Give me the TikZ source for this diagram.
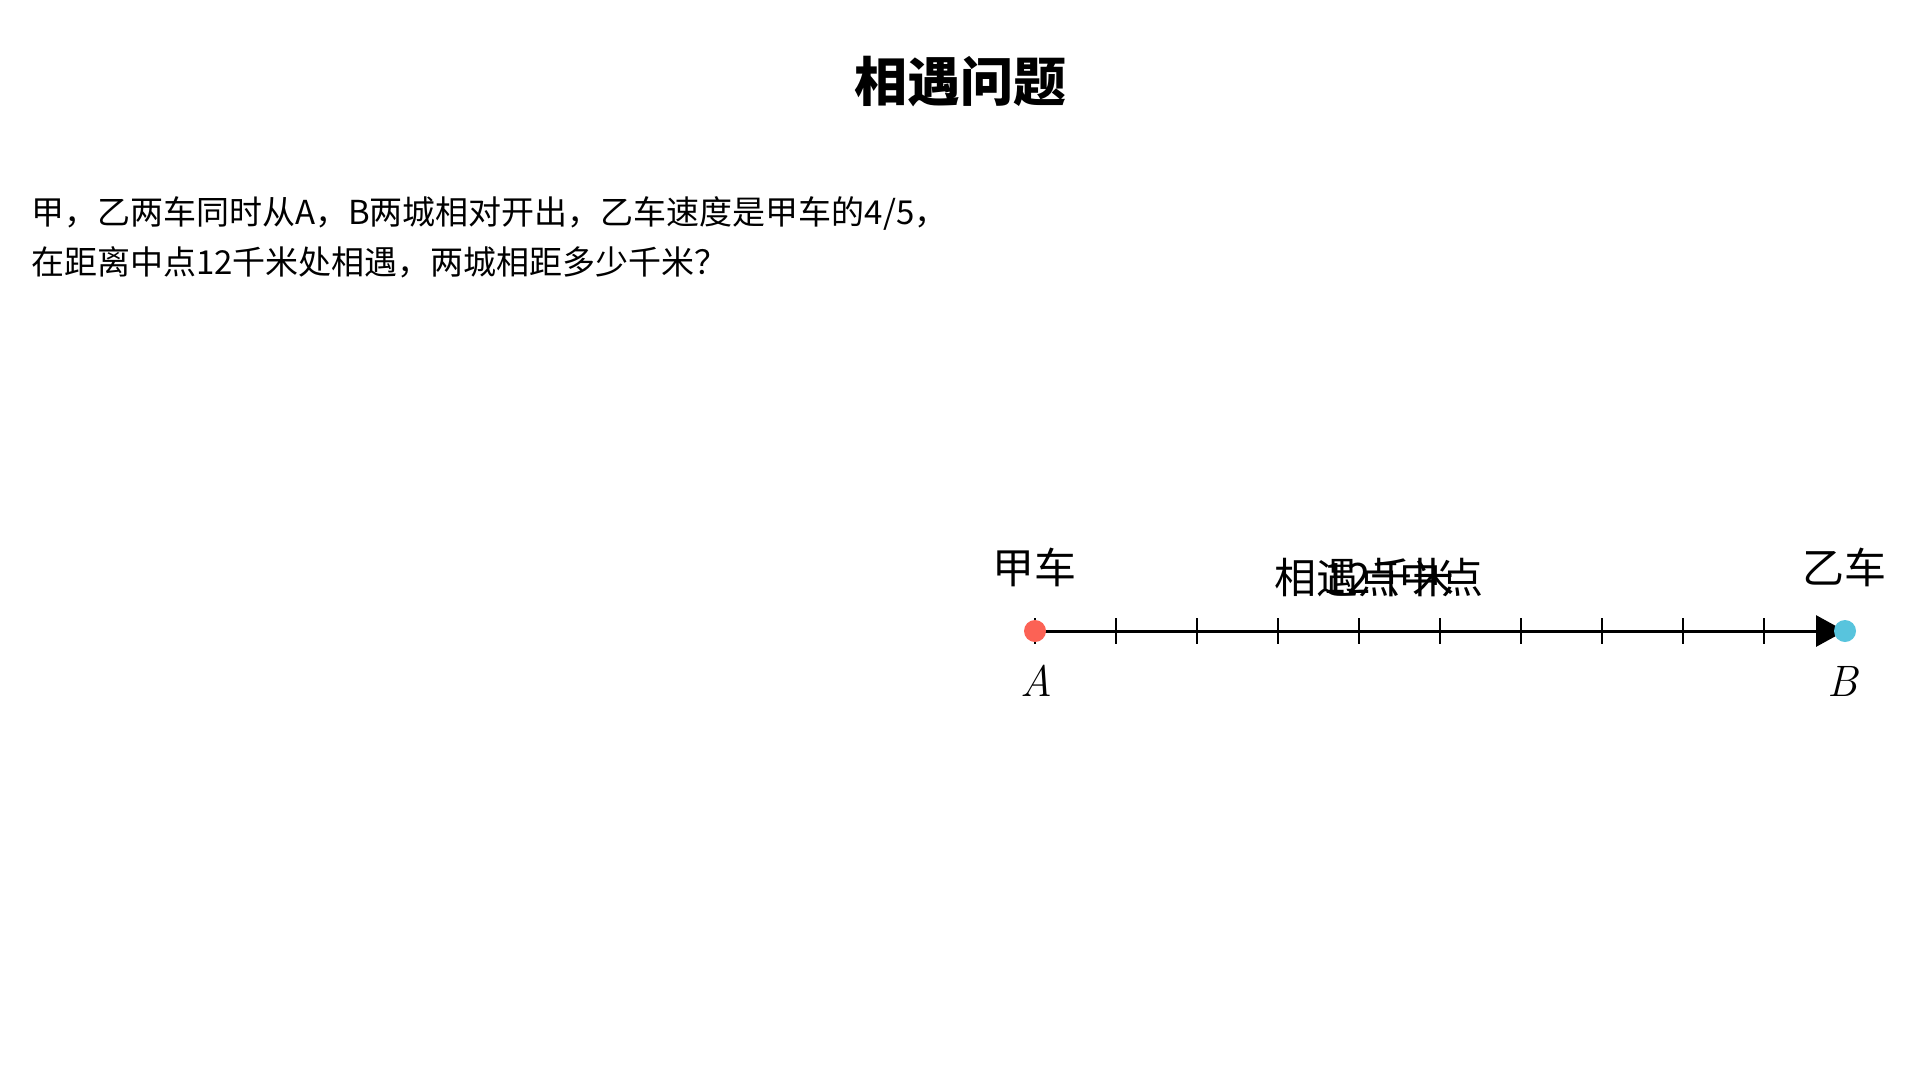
\documentclass[tikz,border=0pt]{standalone}
\usepackage{fontspec}
\usetikzlibrary{arrows.meta}
\newfontfamily\cjk{Noto Sans CJK SC}
\definecolor{dotred}{HTML}{FC6255}
\definecolor{dotblue}{HTML}{58C4DD}
\tikzset{
  titletext/.style={font=\cjk\bfseries\fontsize{53}{60}\selectfont, inner sep=0pt},
  bodytext/.style={font=\cjk\fontsize{33}{40}\selectfont, inner sep=0pt, anchor=base west},
  labeltext/.style={font=\cjk\fontsize{42}{48}\selectfont, inner sep=0pt},
  pointlabel/.style={font=\fontsize{44}{50}\selectfont\itshape, inner sep=0pt},
  dotnode/.style={circle, inner sep=0pt, minimum size=22pt},
  tickline/.style={line width=2.5pt},
  axisline/.style={line width=3pt, -{Triangle[length=29pt,width=31pt]}}
}
\begin{document}
\begin{tikzpicture}[x=1pt,y=-1pt]
\useasboundingbox (0,0) rectangle (1920,1080);
\node[titletext] (title) at (960,82) {相遇问题};
\node[bodytext] (line1) at (31,224) {甲，乙两车同时从A，B两城相对开出，乙车速度是甲车的4/5，};
\node[bodytext] (line2) at (31,274) {在距离中点12千米处相遇，两城相距多少千米？};
\coordinate (A) at (1035,631);
\coordinate (B) at (1845,631);
\foreach \k in {0,...,9} {
  \draw[tickline] (1035+81*\k,618) -- (1035+81*\k,644);
}
\draw[axisline] (A) -- (B);
\node[dotnode, fill=dotred] (dotA) at (A) {};
\node[dotnode, fill=dotblue] (dotB) at (B) {};
\node[labeltext] (jia) at (1034,567) {甲车};
\node[labeltext] (yi) at (1844,567) {乙车};
\node[labeltext] (meet) at (1337,578) {相遇点};
\node[labeltext] (dist) at (1389,578) {12千米};
\node[labeltext] (mid) at (1441,578) {中点};
\node[pointlabel] (labA) at (1036,681) {A};
\node[pointlabel] (labB) at (1843,681) {B};
\end{tikzpicture}
\end{document}
